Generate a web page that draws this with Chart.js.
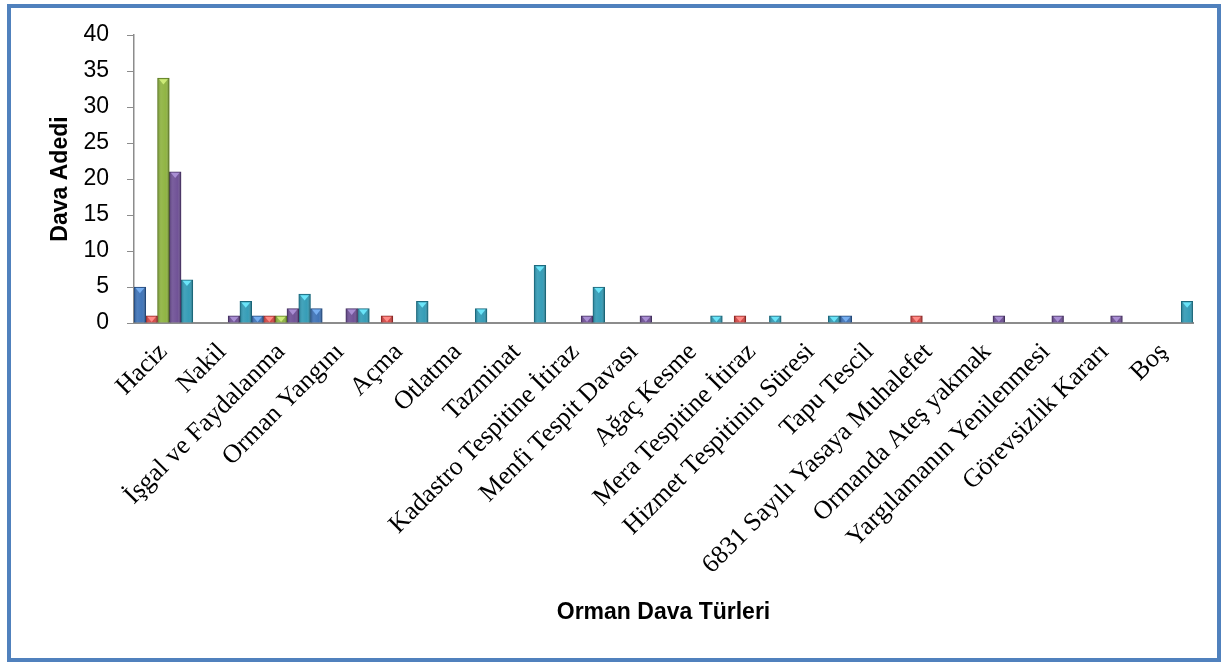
<!DOCTYPE html>
<html>
<head>
<meta charset="utf-8">
<script src="https://cdn.jsdelivr.net/npm/chart.js@4"></script>
<style>
  html, body { margin: 0; padding: 0; background: #fff; }
  #wrap { position: relative; width: 1221px; height: 662px; }
  #c { position: absolute; left: 0; top: 0; }
  #frame { position: absolute; left: 7px; top: 4px; width: 1214px; height: 658px;
           box-sizing: border-box; border: 4px solid #5081bd; pointer-events: none; }
</style>
</head>
<body>
<div id="wrap">
  <canvas id="c" width="1221" height="662"></canvas>
  <div id="frame"></div>
</div>
<script>
const categories = ["Haciz", "Nakil", "İşgal ve Faydalanma", "Orman Yangını", "Açma", "Otlatma",
  "Tazminat", "Kadastro Tespitine İtiraz", "Menfi Tespit Davası", "Ağaç Kesme",
  "Mera Tespitine İtiraz", "Hizmet Tespitinin Süresi", "Tapu Tescil",
  "6831 Sayılı Yasaya Muhalefet", "Ormanda Ateş yakmak", "Yargılamanın Yenilenmesi",
  "Görevsizlik Kararı", "Boş"];

const series1 = [5, 0, 1, 2, 0, 0, 0, 0, 0, 0, 0, 0, 1, 0, 0, 0, 0, 0];
const series2 = [1, 0, 1, 0, 1, 0, 0, 0, 0, 0, 1, 0, 0, 1, 0, 0, 0, 0];
const series3 = [34, 0, 1, 0, 0, 0, 0, 0, 0, 0, 0, 0, 0, 0, 0, 0, 0, 0];
const series4 = [21, 1, 2, 2, 0, 0, 0, 1, 1, 0, 0, 0, 0, 0, 1, 1, 1, 0];
const series5 = [6, 3, 4, 2, 3, 2, 8, 5, 0, 1, 1, 1, 0, 0, 0, 0, 0, 3];

const seriesNames = ["Seri 1", "Seri 2", "Seri 3", "Seri 4", "Seri 5"];
const yTicks = { min: 0, max: 40, step: 5 };

const fills = ["#3a70b6", "#d3423f", "#8cb23c", "#6b4c93", "#2e99b4"];
const edges = ["#234a7e", "#8e2624", "#5c7a22", "#463063", "#1b6a7e"];
const highlights = ["#76aef0", "#ff8a86", "#cdeb78", "#a98ed3", "#6ae4f8"];

const bevel = {
  id: 'bevel',
  afterDatasetsDraw(chart) {
    const ctx = chart.ctx;
    chart.data.datasets.forEach((ds, di) => {
      const meta = chart.getDatasetMeta(di);
      meta.data.forEach(bar => {
        const p = bar.getProps(['x', 'y', 'base', 'width'], true);
        const h = p.base - p.y;
        if (h < 0.5) return;
        const l = p.x - p.width / 2, r = p.x + p.width / 2;
        ctx.save();
        const g = ctx.createLinearGradient(l, 0, r, 0);
        g.addColorStop(0, 'rgba(0,0,0,0.22)');
        g.addColorStop(0.3, 'rgba(255,255,255,0.10)');
        g.addColorStop(0.7, 'rgba(255,255,255,0.04)');
        g.addColorStop(1, 'rgba(0,0,0,0.38)');
        ctx.fillStyle = g;
        ctx.fillRect(l + 0.5, p.y + 0.5, p.width - 1, h - 0.5);
        const th = Math.min(p.width * 0.45, h - 1);
        ctx.fillStyle = highlights[di];
        ctx.beginPath();
        ctx.moveTo(l + 1.5, p.y + 1);
        ctx.lineTo(r - 1.5, p.y + 1);
        ctx.lineTo(p.x, p.y + 1 + th);
        ctx.closePath();
        ctx.fill();
        ctx.restore();
      });
    });
  }
};

const seriesData = [series1, series2, series3, series4, series5];

new Chart(document.getElementById('c'), {
  type: 'bar',
  data: {
    labels: categories,
    datasets: seriesData.map((d, i) => ({
      label: seriesNames[i],
      data: d,
      backgroundColor: fills[i],
      borderColor: edges[i],
      borderWidth: 1,
      categoryPercentage: 1.0,
      barPercentage: 1.0
    }))
  },
  options: {
    responsive: false,
    animation: false,
    devicePixelRatio: 1,
    layout: { padding: { left: 38, top: 35, right: 28, bottom: 22 } },
    plugins: { legend: { display: false }, tooltip: { enabled: false } },
    scales: {
      x: {
        grid: { display: false },
        border: { display: true, color: '#8c8c8c', width: 2 },
        ticks: {
          autoSkip: false, minRotation: 45, maxRotation: 45, padding: 6,
          color: '#000',
          font: { family: 'Liberation Serif', size: 26 }
        },
        title: {
          display: true, text: 'Orman Dava Türleri', color: '#000',
          font: { family: 'Liberation Sans', size: 23, weight: 'bold' },
          padding: { top: 0, bottom: 14 }
        },
        afterFit(scale) { scale.height = 317; scale.paddingLeft = 0; scale.paddingRight = 0; }
      },
      y: {
        min: yTicks.min, max: yTicks.max,
        grid: { display: true, drawOnChartArea: false, drawTicks: true, tickLength: 7, color: '#8c8c8c' },
        border: { display: true, color: '#8c8c8c', width: 1.5 },
        ticks: {
          stepSize: yTicks.step, padding: 18, color: '#000',
          font: { family: 'Liberation Sans', size: 23 }
        },
        title: {
          display: true, text: 'Dava Adedi', color: '#000',
          font: { family: 'Liberation Sans', size: 23, weight: 'bold' },
          padding: { top: 9, bottom: 0 }
        },
        afterFit(scale) { scale.width = 96; }
      }
    }
  },
  plugins: [bevel]
});
</script>
</body>
</html>
